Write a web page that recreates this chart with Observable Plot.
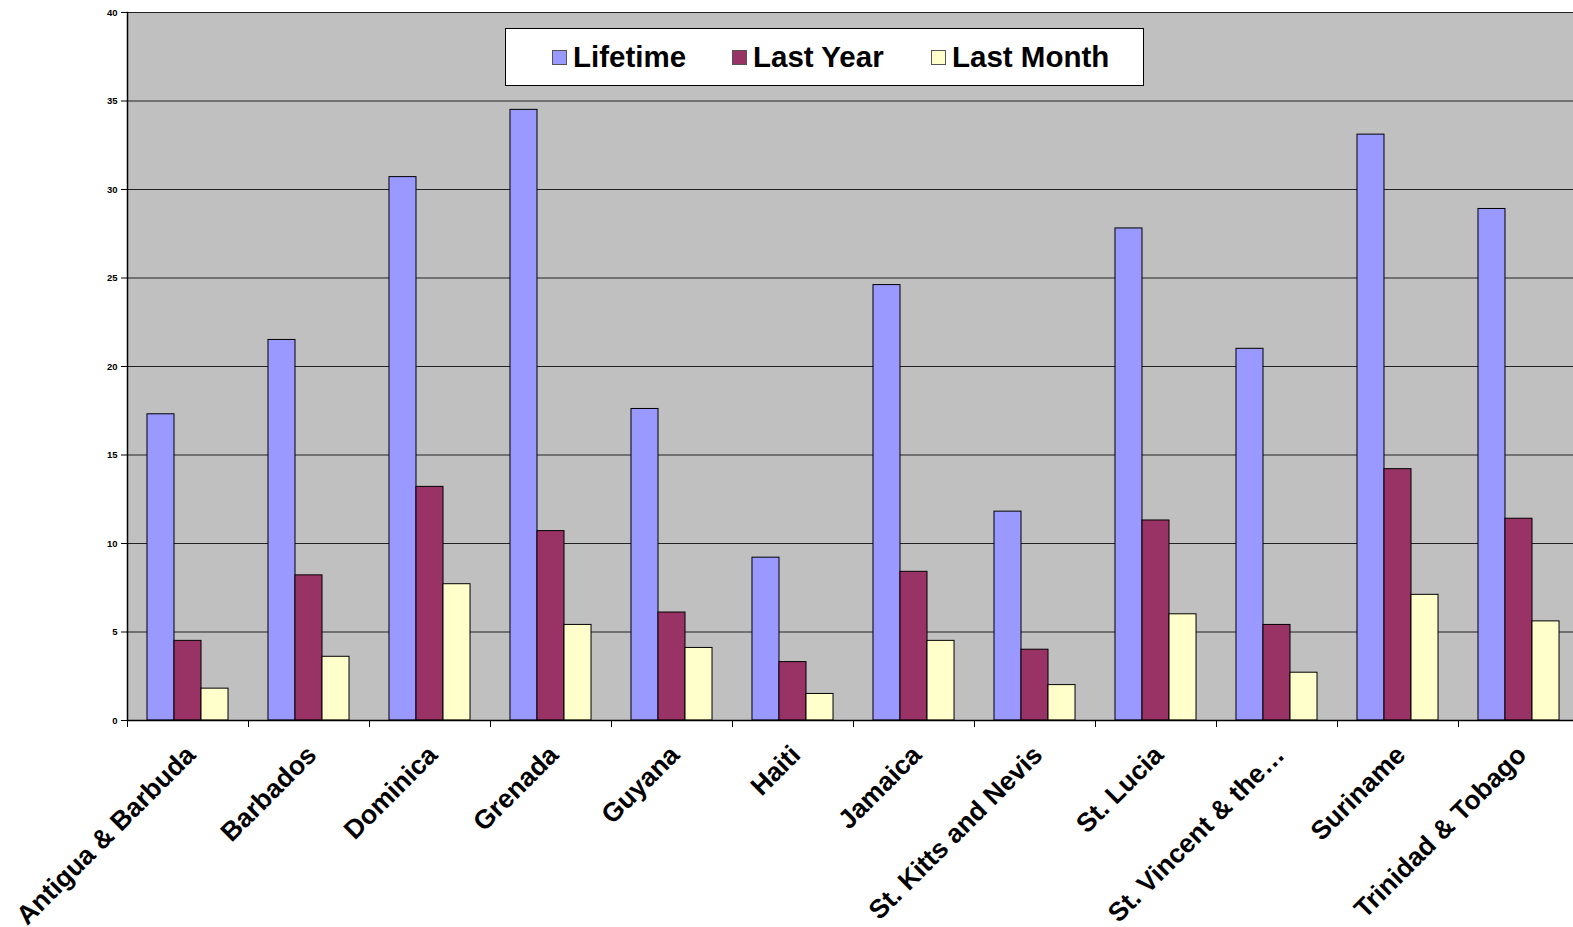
<!DOCTYPE html>
<html>
<head>
<meta charset="utf-8">
<script src="https://cdn.jsdelivr.net/npm/d3@7"></script>
<script src="https://cdn.jsdelivr.net/npm/@observablehq/plot@0.6"></script>
<style>
  html, body { margin: 0; padding: 0; background: #fff; }
  #wrap { position: relative; width: 1573px; height: 927px; overflow: hidden; font-family: "Liberation Sans", Arial, sans-serif; }
  #legend { position: absolute; left: 505px; top: 28px; width: 637px; height: 56px; background: #fff; border: 1.5px solid #000;
            font-weight: bold; font-size: 29.5px; color: #000; }
  .item { position: absolute; display: flex; align-items: center; top: 0; height: 56px; }
  .sw { width: 13px; height: 13px; border: 1px solid #555; margin-right: 6px; }
</style>
</head>
<body>
<div id="wrap">
  <div id="chart"></div>
  <div id="legend"></div>
</div>
<script>
const countries = ["Antigua & Barbuda", "Barbados", "Dominica", "Grenada", "Guyana", "Haiti", "Jamaica",
  "St. Kitts and Nevis", "St. Lucia", "St. Vincent & the…", "Suriname", "Trinidad & Tobago"];
const seriesNames = ["Lifetime", "Last Year", "Last Month"];
const lifetime  = [17.3, 21.5, 30.7, 34.5, 17.6, 9.2, 24.6, 11.8, 27.8, 21.0, 33.1, 28.9];
const lastYear  = [4.5, 8.2, 13.2, 10.7, 6.1, 3.3, 8.4, 4.0, 11.3, 5.4, 14.2, 11.4];
const lastMonth = [1.8, 3.6, 7.7, 5.4, 4.1, 1.5, 4.5, 2.0, 6.0, 2.7, 7.1, 5.6];
const seriesColors = ["#9999FF", "#993366", "#FFFFCC"];
const yTicks = [0, 5, 10, 15, 20, 25, 30, 35, 40];

const values = [lifetime, lastYear, lastMonth];
const rows = countries.flatMap((c, i) => seriesNames.map((s, j) => ({country: c, series: s, value: values[j][i]})));

// the plot area runs a few pixels past the right edge of the page
const W = 1579, H = 927, mL = 127, mR = 0, mT = 12, mB = 207;
const band = (W - mL - mR) / countries.length;
const font = "'Liberation Sans', Arial, sans-serif";

const chart = Plot.plot({
  width: W, height: H,
  marginLeft: mL, marginRight: mR, marginTop: mT, marginBottom: mB,
  style: {fontFamily: font, background: "transparent", overflow: "visible", maxWidth: "none"},
  fx: {domain: countries, padding: 0, round: false, label: null, axis: null},
  x: {domain: seriesNames, paddingInner: 0, paddingOuter: 0.74, round: false, axis: null},
  y: {domain: [0, 40], ticks: yTicks, label: null},
  color: {domain: seriesNames, range: seriesColors},
  marks: [
    Plot.frame({fill: "#C0C0C0", stroke: null, facet: "super"}),
    Plot.ruleY(yTicks.filter(t => t > 0), {stroke: "#222", strokeWidth: 1.2}),
    Plot.barY(rows, {fx: "country", x: "series", y: "value", fill: "series", stroke: "#000", strokeWidth: 1}),
    Plot.ruleY([0], {stroke: "#000", strokeWidth: 1.5}),
    Plot.frame({anchor: "left", facetAnchor: "left", stroke: "#000", strokeWidth: 1.5}),
    Plot.axisY({ticks: yTicks, tickSize: 6, tickPadding: 4, fontSize: 9.5, fontWeight: "bold", label: null, facetAnchor: "left", stroke: "#000"}),
    // tick marks between categories
    Plot.axisFx({anchor: "bottom", tickSize: 7, tickFormat: () => "", dx: -band / 2, label: null, stroke: "#000"}),
    Plot.axisFx({anchor: "bottom", tickSize: 0, tickRotate: -45, tickPadding: 30, dx: 3, fontSize: 26.5, fontWeight: "bold", label: null})
  ]
});
document.getElementById("chart").appendChild(chart);

// legend
const legend = document.getElementById("legend");
const lefts = [46, 226, 425];
seriesNames.forEach((s, i) => {
  const it = document.createElement("div");
  it.className = "item";
  it.style.left = lefts[i] + "px";
  const sw = document.createElement("div");
  sw.className = "sw";
  sw.style.background = seriesColors[i];
  it.appendChild(sw);
  const t = document.createElement("span");
  t.textContent = s;
  it.appendChild(t);
  legend.appendChild(it);
});
</script>
</body>
</html>
